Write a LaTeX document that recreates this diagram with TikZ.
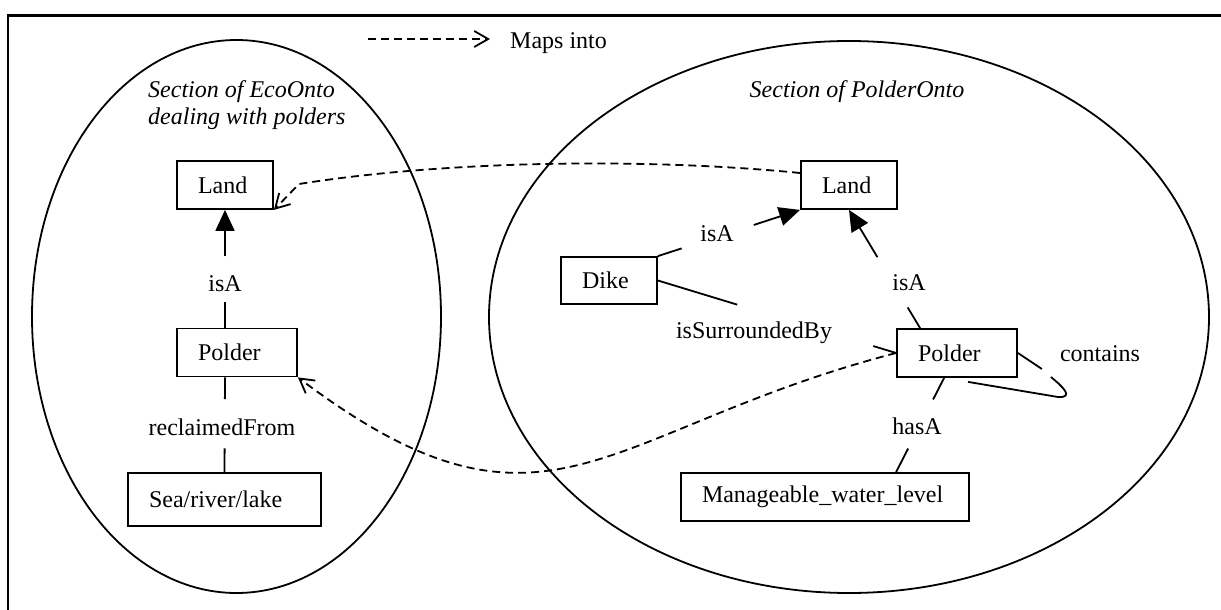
\documentclass[tikz,border=0pt]{standalone}
\usepackage{fontspec}
\setmainfont{Liberation Serif}
\usetikzlibrary{arrows.meta,calc}

\tikzset{
  every node/.style={font=\fontsize{24}{27}\selectfont},
  line/.style={line width=1.8pt},
  concept/.style={draw, line width=1.8pt, fill=white, minimum height=48pt,
    inner ysep=0pt, inner xsep=21pt, align=left},
  rel/.style={inner sep=0pt, anchor=base},
  isa/.style={line, -{Triangle[length=21pt,width=19pt]}},
  maps/.style={line, dash pattern=on 8pt off 5pt,
    -{Straight Barb[length=14pt,width=16pt,line width=1.8pt]}},
}

\begin{document}
\begin{tikzpicture}[x=1pt, y=-1pt]
  \useasboundingbox (0,0) rectangle (1221,610);

  % clipped frame: left and top edges
  \draw[line width=2.2pt] (8,610) -- (8,15.5) -- (1221,15.5);

  % the two ontology sections
  \draw[line] (236.5,316.5) ellipse [x radius=204.5, y radius=276.5];
  \draw[line] (849,317) ellipse [x radius=360, y radius=276];

  % legend
  \coordinate (legA) at (368,39);
  \node[anchor=base west, inner xsep=20pt, inner ysep=0pt] (leg) at (490,49) {Maps into};
  \draw[maps] (legA) -- (leg.west |- legA);

  % section titles
  \node[anchor=north west, inner sep=0pt, align=left, font=\fontsize{24}{27}\selectfont\itshape]
    (tEco) at (148,80) {Section of EcoOnto\\dealing with polders};
  \node[rel, font=\fontsize{24}{27}\selectfont\itshape] (tPol) at (857,97) {Section of PolderOnto};

  % EcoOnto concepts
  \node[concept, text width=54pt] (LL) at (225,185) {Land};
  \node[concept, text width=78pt] (LP) at (237,352.5) {Polder};
  \node[concept, text width=151pt, minimum height=53pt] (SR) at (224.5,499.5) {Sea/river/lake};

  % PolderOnto concepts
  \node[concept, text width=54pt] (RL) at (849,185) {Land};
  \node[concept, text width=54pt, minimum height=47pt] (DK) at (609,280.5) {Dike};
  \node[concept, text width=78pt] (RP) at (957,353) {Polder};
  \node[concept, text width=246pt] (MW) at (825,497) {Manageable\_water\_level};

  % relation labels
  \node[rel] (l1) at (225,291) {isA};
  \node[rel] (l2) at (222,435) {reclaimedFrom};
  \node[rel] (l3) at (717,241) {isA};
  \node[rel] (l4) at (754,338) {isSurroundedBy};
  \node[rel] (l5) at (909,290) {isA};
  \node[rel] (l6) at (917,434) {hasA};
  \node[rel] (l7) at (1100,361) {contains};

  % EcoOnto relations
  \coordinate (a1) at ($(LP.north)+(-12,0)$);
  \draw[line] (a1) -- ($(a1)!0.218!(LL.south)$);
  \draw[isa] ($(a1)!0.605!(LL.south)$) -- (LL.south);

  \coordinate (a2) at ($(LP.south)+(-12,0)$);
  \draw[line] (a2) -- ($(a2)!0.229!(SR.north)$);
  \draw[line] ($(a2)!0.75!(SR.north)$) -- (SR.north);

  % PolderOnto relations
  \draw[line] (DK.north east) -- ($(DK.north east)!0.167!(RL.south west)$);
  \draw[isa] ($(DK.north east)!0.674!(RL.south west)$) -- (RL.south west);

  \draw[line] (DK.east) -- ($(DK.east)!0.333!(RP.west)$);
  \draw[line] ($(DK.east)!0.904!(RP.west)$) -- (RP.west);

  \coordinate (a3) at ($(RP.north west)+(24,0)$);
  \draw[line] (a3) -- ($(a3)!0.175!(RL.south)$);
  \draw[isa] ($(a3)!0.6!(RL.south)$) -- (RL.south);

  \coordinate (a4) at ($(RP.south west)+(48,0)$);
  \coordinate (a5) at ($(MW.north west)+(216,0)$);
  \draw[line] (a4) -- ($(a4)!0.229!(a5)$);
  \draw[line] ($(a4)!0.75!(a5)$) -- (a5);

  % contains: loop back onto Polder
  \coordinate (c1) at ($(RP.east)+(24,16)$);
  \coordinate (c2) at ($(RP.east)+(33,24)$);
  \coordinate (c3) at ($(RP.south)+(11,4)$);
  \draw[line] (RP.east) -- (c1);
  \draw[line] (c2) .. controls (1062,386) and (1075,398) .. (1058,397) -- (c3);

  % mappings between the ontologies
  \coordinate (bendL) at (299,184);
  \draw[maps] ([yshift=12pt]RL.west) .. controls (650,158) and (450,160) .. (bendL) -- (LL.south east);
  \draw[maps] (RP.west) .. controls (600,430) and (547,565) .. (LP.south east);
\end{tikzpicture}
\end{document}
